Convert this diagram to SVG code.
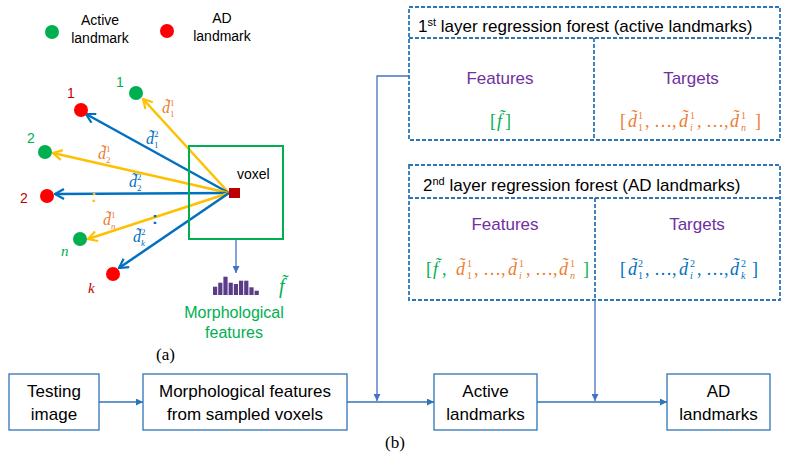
<svg xmlns="http://www.w3.org/2000/svg" width="790" height="467" viewBox="0 0 790 467">
<defs>
<marker id="tri" viewBox="0 0 10 10" refX="10" refY="5" markerWidth="7" markerHeight="7" orient="auto" markerUnits="userSpaceOnUse"><path d="M0,0 L10,5 L0,10 z" fill="#2e75b6"/></marker>
<marker id="tri2" viewBox="0 0 10 10" refX="10" refY="5" markerWidth="7" markerHeight="7" orient="auto" markerUnits="userSpaceOnUse"><path d="M0,0 L10,5 L0,10 z" fill="#4472c4"/></marker>
<marker id="openY" viewBox="0 0 12 12" refX="11" refY="6" markerWidth="12" markerHeight="12" orient="auto" markerUnits="userSpaceOnUse"><path d="M2,1 L11,6 L2,11" fill="none" stroke="#ffc000" stroke-width="2.2"/></marker>
<marker id="openB" viewBox="0 0 12 12" refX="11" refY="6" markerWidth="12" markerHeight="12" orient="auto" markerUnits="userSpaceOnUse"><path d="M2,1 L11,6 L2,11" fill="none" stroke="#0070c0" stroke-width="2.2"/></marker>
</defs>
<style>
.sans{font-family:"Liberation Sans",Arial,sans-serif}
.serif{font-family:"Liberation Serif","Times New Roman",serif}
.m{font-family:"Liberation Serif","Times New Roman",serif;font-style:italic}
.u{font-family:"Liberation Serif","Times New Roman",serif;font-style:normal}
.box{fill:#fff;stroke:#2e75b6;stroke-width:1.3}
.dash{fill:none;stroke:#2e75b6;stroke-width:1.8;stroke-dasharray:4,2}
.conn{fill:none;stroke:#2e75b6;stroke-width:1.3}
.conn2{fill:none;stroke:#4472c4;stroke-width:1.3}
.yl{stroke:#ffc000;stroke-width:2.5;fill:none}
.bl{stroke:#0070c0;stroke-width:2.5;fill:none}
.or{fill:#ed7d31}
.bt{fill:#0070c0}
.gr{fill:#00b050}
.pu{fill:#7030a0}
.dr{fill:#c00000}
.bar{fill:#5b3c88}
</style>

<g id="legend">
<circle cx="52" cy="32" r="7" fill="#00b050"/>
<text class="sans" font-size="14" text-anchor="middle" x="100" y="25" fill="#000">Active</text>
<text class="sans" font-size="14" text-anchor="middle" x="100" y="43" fill="#000">landmark</text>
<circle cx="167" cy="31" r="7" fill="#ff0000"/>
<text class="sans" font-size="14" text-anchor="middle" x="222" y="23" fill="#000">AD</text>
<text class="sans" font-size="14" text-anchor="middle" x="222" y="41" fill="#000">landmark</text>
</g>

<g id="voxel-arrows">
<line class="yl" x1="229" y1="193" x2="143" y2="99" marker-end="url(#openY)"/>
<line class="bl" x1="229" y1="193" x2="86" y2="114" marker-end="url(#openB)"/>
<line class="yl" x1="229" y1="193" x2="53" y2="153" marker-end="url(#openY)"/>
<line class="bl" x1="229" y1="193" x2="55" y2="194" marker-end="url(#openB)"/>
<line class="yl" x1="229" y1="193" x2="88" y2="239" marker-end="url(#openY)"/>
<line class="bl" x1="229" y1="193" x2="119" y2="268" marker-end="url(#openB)"/>
</g>

<g id="landmarks">
<circle cx="136" cy="93" r="7" fill="#00b050"/>
<text class="sans gr" font-size="14" x="116" y="87">1</text>
<circle cx="81" cy="110" r="7" fill="#ff0000"/>
<text class="sans dr" font-size="14" x="67" y="98">1</text>
<circle cx="45" cy="152" r="7" fill="#00b050"/>
<text class="sans gr" font-size="14" x="27" y="143">2</text>
<circle cx="47" cy="196" r="7" fill="#ff0000"/>
<text class="sans dr" font-size="14" x="20" y="203">2</text>
<circle cx="80" cy="239" r="7" fill="#00b050"/>
<text class="m gr" font-size="15" x="61" y="256">n</text>
<circle cx="113" cy="274" r="7" fill="#ff0000"/>
<text class="m dr" font-size="15" x="88" y="293">k</text>
</g>

<g id="distance-labels">
<text class="m or" font-size="16" x="162" y="113">d̃</text>
<text class="u or" font-size="9" x="170" y="106">1</text>
<text class="u or" font-size="9" x="170" y="117">1</text>

<text class="m bt" font-size="16" x="146" y="144">d̃</text>
<text class="u bt" font-size="9" x="154" y="137">2</text>
<text class="u bt" font-size="9" x="154" y="148">1</text>

<text class="m or" font-size="16" x="98" y="159">d̃</text>
<text class="u or" font-size="9" x="106" y="152">1</text>
<text class="u or" font-size="9" x="106" y="163">2</text>

<text class="m bt" font-size="16" x="129" y="187">d̃</text>
<text class="u bt" font-size="9" x="137" y="180">2</text>
<text class="u bt" font-size="9" x="137" y="191">2</text>

<text class="m or" font-size="16" x="103" y="225">d̃</text>
<text class="u or" font-size="9" x="111" y="218">1</text>
<text class="m or" font-size="9" x="111" y="229">n</text>

<text class="m bt" font-size="16" x="133" y="242">d̃</text>
<text class="u bt" font-size="9" x="141" y="235">2</text>
<text class="m bt" font-size="9" x="141" y="246">k</text>

<text class="sans" font-size="17" font-weight="bold" fill="#ffc000" x="91" y="202">:</text>
<text class="sans" font-size="17" font-weight="bold" fill="#0070c0" x="152" y="224">:</text>
</g>

<g id="voxel-box">
<rect x="189" y="146" width="94" height="93" fill="none" stroke="#00b050" stroke-width="2"/>
<rect x="229" y="188" width="11" height="10" fill="#c00000"/>
<text class="sans" font-size="14" x="237" y="179" fill="#000">voxel</text>
</g>

<g id="morph-features">
<rect class="bar" x="213" y="286.7" width="4.2" height="8.3"/>
<rect class="bar" x="218.2" y="282.7" width="4.2" height="12.3"/>
<rect class="bar" x="223.4" y="276.7" width="4.2" height="18.3"/>
<rect class="bar" x="228.6" y="282.7" width="4.2" height="12.3"/>
<rect class="bar" x="233.8" y="284" width="4.2" height="11"/>
<rect class="bar" x="239" y="280.7" width="4.2" height="14.3"/>
<rect class="bar" x="244.2" y="280.7" width="4.2" height="14.3"/>
<rect class="bar" x="249.4" y="287.3" width="4.2" height="7.7"/>
<rect class="bar" x="254.6" y="290.7" width="4.2" height="4.3"/>
<text class="m gr" font-size="20" x="279" y="293">f̃</text>
<text class="sans gr" font-size="16" text-anchor="middle" x="234" y="318">Morphological</text>
<text class="sans gr" font-size="16" text-anchor="middle" x="234" y="338">features</text>
</g>

<text class="serif" font-size="17" x="156" y="360" fill="#000">(a)</text>
<text class="serif" font-size="17" x="385" y="448" fill="#000">(b)</text>

<g id="forest1">
<rect class="dash" x="409" y="7" width="371" height="133"/>
<line class="dash" x1="409" y1="38" x2="780" y2="38"/>
<line class="dash" x1="594" y1="38" x2="594" y2="140"/>
<text class="sans" font-size="17" x="418" y="32" fill="#000">1<tspan font-size="11" dy="-6">st</tspan><tspan dy="6"> layer regression forest (active landmarks)</tspan></text>
<text class="sans pu" font-size="17" text-anchor="middle" x="500" y="84">Features</text>
<text class="sans pu" font-size="17" text-anchor="middle" x="691" y="84">Targets</text>
<text class="gr" font-size="18"><tspan class="u" x="490" y="127">[</tspan><tspan class="m" x="497" y="127">f̃</tspan><tspan class="u" x="505" y="127">]</tspan></text>
<text class="or" font-size="18">
<tspan class="u" x="620" y="127">[</tspan>
<tspan class="m" x="628" y="127">d̃</tspan><tspan class="u" font-size="10" x="638" y="119">1</tspan><tspan class="u" font-size="10" x="638" y="131">1</tspan>
<tspan class="u" x="645" y="127">, …,</tspan>
<tspan class="m" x="679" y="127">d̃</tspan><tspan class="u" font-size="10" x="690" y="119">1</tspan><tspan class="m" font-size="10" x="690" y="131">i</tspan>
<tspan class="u" x="697" y="127">, …,</tspan>
<tspan class="m" x="730" y="127">d̃</tspan><tspan class="u" font-size="10" x="741" y="119">1</tspan><tspan class="m" font-size="10" x="741" y="131">n</tspan>
<tspan class="u" x="755" y="127">]</tspan>
</text>
</g>

<g id="forest2">
<rect class="dash" x="409" y="165" width="371" height="135"/>
<line class="dash" x1="409" y1="198" x2="780" y2="198"/>
<line class="dash" x1="595" y1="198" x2="595" y2="300"/>
<text class="sans" font-size="17" x="423" y="191" fill="#000">2<tspan font-size="11" dy="-6">nd</tspan><tspan dy="6"> layer regression forest (AD landmarks)</tspan></text>
<text class="sans pu" font-size="17" text-anchor="middle" x="505" y="230">Features</text>
<text class="sans pu" font-size="17" text-anchor="middle" x="697" y="230">Targets</text>
<text font-size="18">
<tspan class="u gr" x="426" y="275">[</tspan><tspan class="m gr" x="433" y="275">f̃</tspan><tspan class="u gr" x="442" y="275">,</tspan>
<tspan class="m or" x="456" y="275">d̃</tspan><tspan class="u or" font-size="10" x="467" y="267">1</tspan><tspan class="u or" font-size="10" x="467" y="279">1</tspan>
<tspan class="u or" x="474" y="275">, …,</tspan>
<tspan class="m or" x="508" y="275">d̃</tspan><tspan class="u or" font-size="10" x="519" y="267">1</tspan><tspan class="m or" font-size="10" x="519" y="279">i</tspan>
<tspan class="u or" x="526" y="275">, …,</tspan>
<tspan class="m or" x="559" y="275">d̃</tspan><tspan class="u or" font-size="10" x="570" y="267">1</tspan><tspan class="m or" font-size="10" x="570" y="279">n</tspan>
<tspan class="u gr" x="583" y="275">]</tspan>
</text>
<text class="bt" font-size="18">
<tspan class="u" x="620" y="275">[</tspan>
<tspan class="m" x="628" y="275">d̃</tspan><tspan class="u" font-size="10" x="638" y="267">2</tspan><tspan class="u" font-size="10" x="638" y="279">1</tspan>
<tspan class="u" x="645" y="275">, …,</tspan>
<tspan class="m" x="679" y="275">d̃</tspan><tspan class="u" font-size="10" x="690" y="267">2</tspan><tspan class="m" font-size="10" x="690" y="279">i</tspan>
<tspan class="u" x="697" y="275">, …,</tspan>
<tspan class="m" x="730" y="275">d̃</tspan><tspan class="u" font-size="10" x="741" y="267">2</tspan><tspan class="m" font-size="10" x="741" y="279">k</tspan>
<tspan class="u" x="752" y="275">]</tspan>
</text>
</g>

<g id="testing-image">
<rect class="box" x="9" y="374" width="90" height="56"/>
<text class="sans" font-size="17" text-anchor="middle" x="54" y="397" fill="#000">Testing</text>
<text class="sans" font-size="17" text-anchor="middle" x="54" y="420" fill="#000">image</text>
</g>
<g id="morph-box">
<rect class="box" x="143" y="374" width="204" height="56"/>
<text class="sans" font-size="17" text-anchor="middle" x="245" y="397" fill="#000">Morphological features</text>
<text class="sans" font-size="17" text-anchor="middle" x="245" y="420" fill="#000">from sampled voxels</text>
</g>
<g id="active-landmarks">
<rect class="box" x="434" y="374" width="103" height="56"/>
<text class="sans" font-size="17" text-anchor="middle" x="485.5" y="397" fill="#000">Active</text>
<text class="sans" font-size="17" text-anchor="middle" x="485.5" y="420" fill="#000">landmarks</text>
</g>
<g id="ad-landmarks">
<rect class="box" x="667" y="374" width="103" height="56"/>
<text class="sans" font-size="17" text-anchor="middle" x="718.5" y="397" fill="#000">AD</text>
<text class="sans" font-size="17" text-anchor="middle" x="718.5" y="420" fill="#000">landmarks</text>
</g>

<g id="connectors">
<line class="conn2" x1="236" y1="239" x2="236" y2="273" marker-end="url(#tri2)"/>
<line class="conn" x1="99" y1="402" x2="143" y2="402" marker-end="url(#tri)"/>
<line class="conn" x1="347" y1="402" x2="434" y2="402" marker-end="url(#tri)"/>
<line class="conn" x1="537" y1="402" x2="667" y2="402" marker-end="url(#tri)"/>
<polyline class="conn2" points="409,76 377,76 377,401" marker-end="url(#tri2)"/>
<line class="conn2" x1="595" y1="300" x2="595" y2="401" marker-end="url(#tri2)"/>
</g>
</svg>
